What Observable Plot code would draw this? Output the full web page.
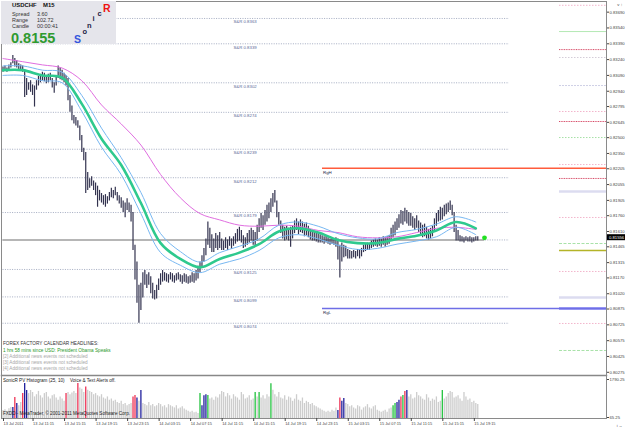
<!DOCTYPE html>
<html><head><meta charset="utf-8">
<script src="https://cdn.jsdelivr.net/npm/d3@7"></script>
<script src="https://cdn.jsdelivr.net/npm/@observablehq/plot@0.6"></script>
<style>
html,body{margin:0;padding:0;background:#fff;}
#chart{position:relative;width:625px;height:429px;overflow:hidden;font-family:"Liberation Sans",Arial,sans-serif;background:#fff;}
#chart svg{position:absolute;left:0;top:0;}
.t{position:absolute;white-space:nowrap;line-height:1;}
</style></head><body><div id="chart"></div>
<script>
// ---------- DATA ----------
const symbol = "USDCHF", timeframe = "M15";
const infoRows = [["Spread","3.60"],["Range","102.72"],["Candle","00:00:41"]];
const lastPrice = 0.8155;
const bidPrice = 0.81556;

// M15 bars, first bar 13 Jul 2011 07:30
const highs = [.8317,.8318,.8316,.8319,.8321,.8328,.8325,.8323,.8320,.8319,
.8318,.8314,.8306,.8302,.8304,.8300,.8299,.8304,.8308,.8310,
.8312,.8311,.8309,.8310,.8311,.8306,.8302,.8309,.8318,.8316,
.8314,.8311,.8309,.8306,.8290,.8280,.8271,.8269,.8266,.8261,
.8252,.8240,.8236,.8217,.8211,.8213,.8209,.8207,.8204,.8200,
.8197,.8195,.8196,.8194,.8198,.8202,.8200,.8203,.8198,.8195,
.8193,.8190,.8188,.8192,.8188,.8186,.8179,.8148,.8132,.8110,
.8112,.8122,.8124,.8120,.8122,.8118,.8112,.8105,.8110,.8116,
.8121,.8124,.8122,.8121,.8120,.8122,.8121,.8119,.8121,.8122,
.8120,.8119,.8121,.8120,.8118,.8119,.8122,.8121,.8124,.8128,
.8132,.8138,.8145,.8154,.8170,.8164,.8158,.8154,.8159,.8157,
.8160,.8154,.8152,.8155,.8153,.8156,.8154,.8156,.8159,.8163,
.8165,.8162,.8157,.8155,.8159,.8162,.8164,.8162,.8160,.8167,
.8173,.8178,.8176,.8181,.8186,.8188,.8192,.8197,.8200,.8190,
.8179,.8171,.8167,.8165,.8166,.8164,.8165,.8166,.8171,.8173,
.8170,.8172,.8170,.8168,.8169,.8166,.8163,.8162,.8161,.8160,
.8159,.8158,.8157,.8156,.8157,.8155,.8154,.8155,.8154,.8155,
.8154,.8148,.8150,.8148,.8147,.8144,.8143,.8142,.8143,.8142,
.8144,.8143,.8145,.8148,.8149,.8150,.8149,.8152,.8153,.8154,
.8153,.8155,.8154,.8156,.8155,.8156,.8157,.8164,.8167,.8170,
.8173,.8177,.8181,.8180,.8183,.8181,.8179,.8178,.8175,.8173,
.8176,.8171,.8169,.8167,.8168,.8165,.8163,.8164,.8166,.8173,
.8178,.8181,.8184,.8183,.8186,.8187,.8188,.8190,.8186,.8179,
.8167,.8162,.8157,.8156,.8155,.8156,.8155,.8156,.8155,.8155,
.8156,.8156];
const lows = [.8312,.8313,.8312,.8314,.8316,.8320,.8317,.8316,.8314,.8313,
.8312,.8288,.8290,.8295,.8293,.8290,.8279,.8295,.8299,.8302,
.8304,.8303,.8301,.8302,.8304,.8297,.8292,.8299,.8306,.8305,
.8304,.8302,.8299,.8285,.8274,.8266,.8263,.8261,.8259,.8247,
.8236,.8228,.8197,.8200,.8202,.8204,.8200,.8195,.8184,.8190,
.8188,.8186,.8184,.8187,.8190,.8193,.8192,.8195,.8190,.8187,
.8183,.8179,.8174,.8181,.8179,.8170,.8143,.8115,.8093,.8074,
.8086,.8098,.8110,.8107,.8110,.8102,.8097,.8096,.8097,.8105,
.8110,.8113,.8114,.8113,.8112,.8115,.8113,.8112,.8114,.8115,
.8113,.8111,.8113,.8112,.8111,.8112,.8113,.8112,.8114,.8116,
.8122,.8126,.8132,.8138,.8148,.8145,.8141,.8141,.8145,.8143,
.8145,.8143,.8143,.8145,.8143,.8147,.8144,.8147,.8149,.8151,
.8152,.8150,.8145,.8146,.8148,.8150,.8152,.8148,.8146,.8152,
.8160,.8164,.8162,.8167,.8170,.8173,.8179,.8184,.8188,.8174,
.8167,.8159,.8154,.8152,.8153,.8152,.8146,.8154,.8159,.8162,
.8158,.8160,.8159,.8156,.8157,.8155,.8153,.8152,.8152,.8151,
.8150,.8150,.8150,.8149,.8150,.8149,.8148,.8149,.8148,.8146,
.8134,.8117,.8132,.8136,.8137,.8135,.8135,.8135,.8136,.8135,
.8137,.8135,.8137,.8141,.8142,.8143,.8143,.8145,.8146,.8147,
.8146,.8147,.8146,.8148,.8146,.8148,.8149,.8152,.8155,.8157,
.8162,.8164,.8168,.8167,.8170,.8168,.8166,.8166,.8164,.8162,
.8164,.8160,.8157,.8155,.8156,.8154,.8153,.8154,.8156,.8162,
.8166,.8170,.8171,.8172,.8175,.8177,.8179,.8181,.8176,.8160,
.8152,.8152,.8151,.8151,.8150,.8152,.8151,.8151,.8150,.8151,
.8152,.8152];

// moving averages read every 10 bars
const maBars   = [0,10,20,30,40,50,60,70,80,90,100,110,120,130,140,150,160,170,180,190,200,210,220,230,240];
const emaClose = [.8314,.8314,.8309,.8307,.8282,.8249,.8224,.8188,.8150,.8135,.8127,.8135,.8141,.8149,.8161,.8164,.8160,.8153,.8150,.8150,.8154,.8157,.8162,.8170,.8164];
const emaHigh  = [.8318,.8318,.8314,.8312,.8290,.8259,.8231,.8198,.8159,.8142,.8132,.8141,.8147,.8154,.8167,.8170,.8166,.8159,.8155,.8154,.8160,.8163,.8168,.8175,.8170];
const emaLow   = [.8309,.8309,.8304,.8302,.8275,.8241,.8215,.8178,.8141,.8129,.8122,.8130,.8135,.8143,.8155,.8158,.8154,.8148,.8144,.8145,.8149,.8152,.8156,.8165,.8158];
const emaSlow  = [.8325,.8322,.8319,.8316,.8304,.8281,.8263,.8243,.8215,.8193,.8178,.8172,.8167,.8166,.8167,.8166,.8162,.8160,.8156,.8155,.8156,.8160,.8164,.8165,.8163];

// support & resistance levels
const srLevels = [0.8363,0.8339,0.8302,0.8274,0.8239,0.8212,0.8179,0.8125,0.8099,0.8074];
const priceLineLevel = 0.8153;
const rangeHigh = 0.8221, rangeLow = 0.8088;
const pivotLevels = [0.83755,0.83506,0.83335,0.83260,0.82994,0.82748,0.82653,0.82501,0.82245,0.82113,0.81989,0.81743,0.81496,0.81430,0.81231,0.80984,0.80880,0.80738,0.80482];
const pivotKinds  = ["pink","green","red","grey","lavender","pink","red","greenDot","pink","red","lavenderThick","pink","greenDash","olive","pink","lavenderThick","blue","pink","greenDash"];

// right axis ticks
const priceTicks = [0.83690,0.83540,0.83390,0.83240,0.83090,0.82940,0.82795,0.82645,0.82500,0.82350,0.82205,0.82055,0.81905,0.81760,0.81610,0.81465,0.81315,0.81170,0.81020,0.80875,0.80725,0.80575,0.80425,0.80275];

// time axis
const timeTickBars = [0,15,31,47,63,79,95,111,127,143,159,175,191,207,223,239];
const timeTickLabels = ["13 Jul 2011","13 Jul 11:15","13 Jul 15:15","13 Jul 19:15","13 Jul 23:15","14 Jul 03:15","14 Jul 07:15","14 Jul 11:15","14 Jul 15:15","14 Jul 19:15","14 Jul 23:15","15 Jul 03:15","15 Jul 07:15","15 Jul 11:15","15 Jul 15:15","15 Jul 19:15"];

// PV histogram
const volume = [380,420,350,460,520, 520,970,700, 600,750, 1150,1610,1290,
1150,1290,1200,1000,1100,1250,1050,950,1150,1200,1000,900,1050,1100,950,850,1000,900,800,
1150, 1200,1100,1180,1250,1150, 1610, 1400,1350,1200, 1450,
1300,1250,1200,1100,1150,1050,1000,1100,950,900,1000,850,900,800,850,750,700,800,650,700,600,650,700,
1000,1060,950,800,1290,
700,650,600,750,600,650,550,600,700,650,550,600,500,650,600,550,500,600,450,500,550,450,400,350,300,350,280,300,250,
1150,600,1050,1100,1060,
900,950,850,1000,950,1100,1250,1200,1000,1150,1050,900,1100,1000,950,850,1200,1100,900,950,1050,850,900,
1200,1000,1200, 950,1050,900,1100,1000, 1600,
1300,1100,1000,1200,950,900,1050,850,1000,950,800,900,1100,850,800,950,700,800,750,650,700,600,550,500,450,400,350,300,350,300,400,350,500,
380,950,800,930,
700,650,550,600,500,450,600,550,400,500,550,650,500,450,550,600,400,350,300,350,400,300,450,500,
600,700,750,850,1000,1060,1250,1290,
1000,1100,900,950,1200,1050,1000,900,850,1100,950,800,900,850,1000,750,800,
1290,
900,1000,1150,1250,1200,950,1000,1050,900,800,1200,1000,850,900,750,800,700,650];
const colouredBars = [[5,"navy"],[6,"red"],[7,"navy"],[10,"red"],[11,"navy"],[12,"navy"],[32,"red"],[38,"red"],[42,"red"],[66,"red"],[67,"red"],[68,"navy"],[70,"navy"],[100,"green"],[101,"navy"],[102,"navy"],[103,"navy"],[104,"green"],[128,"green"],[130,"green"],[136,"green"],[170,"navy"],[171,"red"],[172,"navy"],[173,"navy"],[198,"green"],[199,"green"],[200,"navy"],[201,"navy"],[202,"red"],[203,"green"],[204,"red"],[205,"navy"],[223,"green"]];
const volTicks = [1790.25, 65.25];

const newsHeading = "FOREX FACTORY CALENDAR HEADLINES:";
const newsLines = ["1 hrs 58 mins since USD: President Obama Speaks","[2] Additional news events not scheduled","[3] Additional news events not scheduled","[4] Additional news events not scheduled"];

// ---------- BUILD ----------
const FONT = "Liberation Sans, Arial, sans-serif";
const bars = highs.map((h,i)=>({i, high:h, low:lows[i]}));
const maRows = maBars.map((b,k)=>({i:b, ema:emaClose[k], hi:emaHigh[k], lo:emaLow[k], slow:emaSlow[k]}));
const volColour = {gray:"#cdcdcd", red:"#ee3355", navy:"#1f1f9c", green:"#22c23e"};
const kindOf = new Map(colouredBars);
const volRows = volume.map((v,i)=>({i, v, c: volColour[kindOf.get(i) || "gray"]}));
const pivots = pivotLevels.map((v,k)=>({v, kind:pivotKinds[k]}));
const pivotStyle = {
  pink:{stroke:"#f2b6cc",strokeWidth:1,strokeDasharray:"1.5,1.5"},
  green:{stroke:"#b4e8b4",strokeWidth:1},
  red:{stroke:"#d64a66",strokeWidth:1,strokeDasharray:"1,0.7"},
  grey:{stroke:"#d4cdd8",strokeWidth:1,strokeDasharray:"1.5,1.5"},
  lavender:{stroke:"#cfd0e6",strokeWidth:1,strokeDasharray:"2,1"},
  greenDot:{stroke:"#a6e0a6",strokeWidth:1,strokeDasharray:"1.5,1.5"},
  lavenderThick:{stroke:"#dcdcf0",strokeWidth:2.5},
  greenDash:{stroke:"#a8e2a8",strokeWidth:1,strokeDasharray:"3,1.5"},
  olive:{stroke:"#b4b428",strokeWidth:1.6},
  blue:{stroke:"#8484f0",strokeWidth:2.5}
};

const barPx = 1.97, firstPx = 2.5;
const xOpt = {type:"linear", domain:[0,241], range:[firstPx, firstPx+241*barPx], axis:null};
const bar = px => (px-firstPx)/barPx;       // pixel -> bar index helper for layout extents
const srEnd = bar(509), pivotStart = bar(559), rightEdge = bar(606.3), rgStart = bar(322), dotBar = bar(484), labelBar = bar(233), boxEnd = bar(625);

const pivotMarks = Object.keys(pivotStyle).map(k =>
  Plot.ruleY(pivots.filter(d=>d.kind===k), {y:"v", x1:pivotStart, x2:rightEdge, ...pivotStyle[k]}));

const main = Plot.plot({
  width:625, height:429, marginTop:1, marginRight:19, marginBottom:54, marginLeft:1,
  x: xOpt,
  y: {type:"linear", domain:[0.80275,0.83698], range:[371.8,10.8], axis:null},
  style:{background:"transparent", fontFamily:FONT, overflow:"visible"},
  marks:[
    Plot.ruleY(srLevels, {y:d=>d, x1:0, x2:srEnd, stroke:"#8e98b2", strokeWidth:0.8, strokeDasharray:"1,1.4"}),
    Plot.ruleY([priceLineLevel], {y:d=>d, x1:0, x2:srEnd, stroke:"#8e98b2", strokeWidth:0.8, strokeDasharray:"1,1.4"}),
    Plot.ruleY([priceLineLevel], {y:d=>d, x1:0, x2:dotBar, stroke:"#b6b6b6", strokeWidth:2}),
    ...pivotMarks,
    Plot.ruleY([rangeHigh], {y:d=>d, x1:rgStart, x2:rightEdge, stroke:"#ff5c3c", strokeWidth:1.5}),
    Plot.ruleY([rangeLow], {y:d=>d, x1:rgStart, x2:rightEdge, stroke:"#6e6ee6", strokeWidth:1.5}),
    Plot.text([["RgH",rangeHigh],["RgL",rangeLow]], {x:()=>rgStart, y:d=>d[1], text:d=>d[0], dy:4.2, dx:0.5, textAnchor:"start", fontSize:4.4, fill:"#2a2a4a"}),
    Plot.text(srLevels, {x:()=>labelBar, y:d=>d, text:d=>"S&R " + d3.format(".4f")(d), dy:3.4, textAnchor:"start", fontSize:4.3, fill:"#5a6898"}),
    Plot.ruleX(bars, {x:"i", y1:"low", y2:"high", stroke:"#33334f", strokeWidth:1.2}),
    Plot.line(maRows, {x:"i", y:"slow", stroke:"#e06ee0", strokeWidth:1, curve:"catmull-rom"}),
    Plot.line(maRows, {x:"i", y:"hi", stroke:"#78b8f2", strokeWidth:1, curve:"catmull-rom"}),
    Plot.line(maRows, {x:"i", y:"lo", stroke:"#78b8f2", strokeWidth:1, curve:"catmull-rom"}),
    Plot.line(maRows, {x:"i", y:"ema", stroke:"#2ec98e", strokeWidth:2.6, curve:"catmull-rom"}),
    Plot.dot([lastPrice], {x:()=>dotBar, y:d=>d, r:2.4, fill:"#22e022"}),
    Plot.axisY({anchor:"right", ticks:priceTicks, tickFormat:d3.format(".5f"), tickSize:2, tickPadding:1, fontSize:4.2, color:"#444"}),
    Plot.ruleY([bidPrice], {y:d=>d, x1:rightEdge+0.2, x2:boxEnd, stroke:"#000", strokeWidth:6}),
    Plot.text([bidPrice], {y:d=>d, frameAnchor:"right", dx:2.5, textAnchor:"start", text:d=>d3.format(".5f")(d), fill:"#fff", fontSize:4.2}),
    Plot.frame({anchor:"bottom", stroke:"#888", strokeWidth:1.5})
  ]
});

const sub = Plot.plot({
  width:625, height:429, marginTop:1, marginRight:19, marginBottom:11, marginLeft:1,
  x: xOpt,
  y: {type:"linear", domain:[65.25,1790.25], range:[417,379], axis:null},
  style:{background:"transparent", fontFamily:FONT, overflow:"visible"},
  marks:[
    Plot.ruleX(volRows, {x:"i", y1:0, y2:"v", stroke:"c", strokeWidth:1.3}),
    Plot.frame({stroke:"#8a8a8a"}),
    Plot.axisY({anchor:"right", ticks:volTicks, tickFormat:d3.format(".2f"), tickSize:2, tickPadding:1, fontSize:4.2, color:"#444"}),
    Plot.axisX({anchor:"bottom", ticks:timeTickBars, tickFormat:d=>timeTickLabels[timeTickBars.indexOf(d)], tickSize:3, tickPadding:1, textAnchor:"start", dx:0.5, fontSize:3.9, color:"#444"})
  ]
});

const root = document.getElementById("chart");
root.append(main, sub);

function addText(txt, left, cy, size, opts={}) {
  const el = document.createElement("div");
  el.className = "t";
  el.textContent = txt;
  el.style.left = left + "px";
  el.style.top = (cy - size*0.55) + "px";
  el.style.fontSize = size + "px";
  el.style.color = opts.color || "#222";
  if (opts.bold) el.style.fontWeight = "bold";
  root.append(el);
  return el;
}
// info box
const box = document.createElement("div");
box.style.cssText = "position:absolute;left:1px;top:1px;width:115px;height:43px;background:#e5e5eb;";
root.append(box);
addText(symbol, 12, 6.3, 5.9, {bold:true, color:"#111"});
addText(timeframe, 43, 6.3, 5.9, {bold:true, color:"#111"});
infoRows.forEach((r,k)=>{ addText(r[0], 12, 15+k*6, 5.4, {color:"#333"}); addText(r[1], 37, 15+k*6, 5.4, {color:"#333"}); });
addText(d3.format(".4f")(lastPrice), 11, 38.5, 14.5, {bold:true, color:"#2f9a2f"});
[["S",74,39.5,10.5,"#3355dd"],["o",82.5,32.5,7.5,"#222244"],["n",87,26,7.5,"#222244"],["i",92.5,19.5,7.5,"#222244"],["c",97.5,14.5,7.5,"#222244"],["R",103,8.5,10.5,"#ee1111"]]
  .forEach(([ch,x,y,s,c])=>addText(ch,x,y,s,{bold:true,color:c}));
// news
addText(newsHeading, 3, 345, 4.7, {color:"#333"});
newsLines.forEach((t,k)=>addText(t, 3, [352,358,363.8,369.3][k], 4.7, {color: k===0 ? "#2a9a2a" : "#a8a8a8"}));
// sub-window captions
addText("SonicR PV Histogram  (25, 10)", 3, 381.5, 4.6, {color:"#222"});
addText("Voice & Text Alerts off.", 70, 381.5, 4.6, {color:"#222"});
addText("FXDD - MetaTrader, © 2001-2011 MetaQuotes Software Corp.", 3, 415, 4.6, {color:"#222"});
</script></body></html>
